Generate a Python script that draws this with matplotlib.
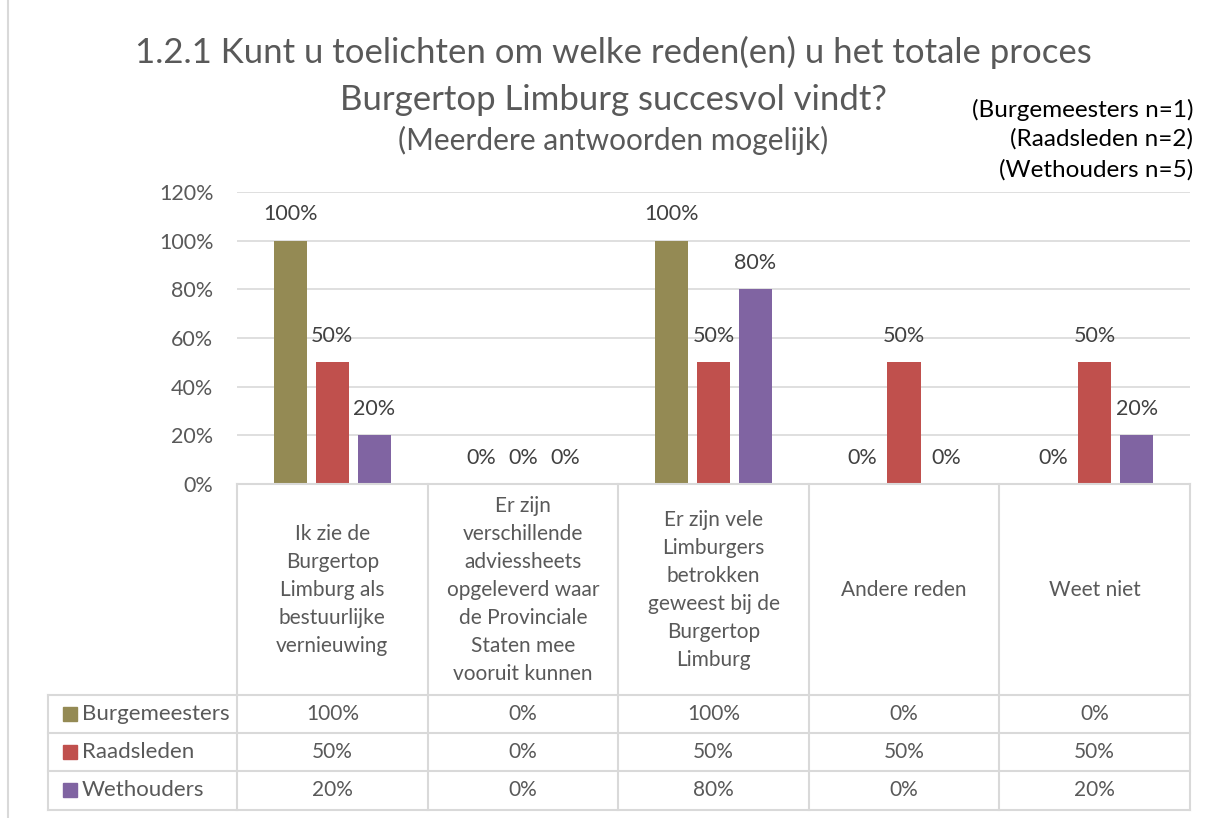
import numpy as np
import matplotlib.pyplot as plt
from matplotlib.transforms import blended_transform_factory
from matplotlib.lines import Line2D
from matplotlib.patches import Rectangle

categories = ["Ik zie de\nBurgertop\nLimburg als\nbestuurlijke\nvernieuwing",
              "Er zijn\nverschillende\nadviessheets\nopgeleverd waar\nde Provinciale\nStaten mee\nvooruit kunnen",
              "Er zijn vele\nLimburgers\nbetrokken\ngeweest bij de\nBurgertop\nLimburg",
              "Andere reden",
              "Weet niet"]
series = ["Burgemeesters", "Raadsleden", "Wethouders"]
burgemeesters = [100, 0, 100, 0, 0]
raadsleden = [50, 0, 50, 50, 50]
wethouders = [20, 0, 80, 0, 20]
colors = ["#948A54", "#C0504D", "#8064A2"]
yticks = [0, 20, 40, 60, 80, 100, 120]

plt.rcParams['font.family'] = ['Lato', 'DejaVu Sans']
grey = "#595959"
linec = "#D9D9D9"
fs = 15

fig = plt.figure(figsize=(12.14, 8.18), dpi=100)
W, H = 1214, 818
def fx(px): return px / W
def fy(py): return 1 - py / H

ax = fig.add_axes([fx(237), fy(484), fx(1190) - fx(237), fy(192) - fy(484)])
x = np.arange(len(categories))
width = 0.175
step = 0.22
data = [burgemeesters, raadsleden, wethouders]
for i, vals in enumerate(data):
    pos = x + (i - 1) * step
    ax.bar(pos, vals, width, color=colors[i], zorder=3)
    for p, v in zip(pos, vals):
        ax.annotate(f"{v}%", (p, v), xytext=(0, 19), textcoords="offset points",
                    ha="center", va="center", fontsize=fs + 0.5, color="#404040")

ax.set_xlim(-0.5, len(categories) - 0.5)
ax.set_ylim(0, 120)
ax.set_yticks(yticks)
ax.set_yticklabels([f"{t}%" for t in yticks], fontsize=fs + 0.5, color=grey)
ax.tick_params(axis="y", length=0, pad=17)
ax.set_xticks([])
ax.grid(axis="y", color=linec, linewidth=1.2, zorder=0)
for s in ["top", "right", "left", "bottom"]:
    ax.spines[s].set_visible(False)

# data table below the axes
tr = blended_transform_factory(ax.transData, fig.transFigure)
bounds = np.arange(len(categories) + 1) - 0.5
kw = dict(color=linec, linewidth=1.5, clip_on=False)
for b in bounds:
    fig.add_artist(Line2D([b, b], [fy(484), fy(810)], transform=tr, **kw))
fig.add_artist(Line2D([fx(48), fx(48)], [fy(695), fy(810)], transform=fig.transFigure, **kw))
fig.add_artist(Line2D([fx(237), fx(1190)], [fy(484), fy(484)], transform=fig.transFigure, **kw))
for yy in [695, 733, 771, 810]:
    fig.add_artist(Line2D([fx(48), fx(1190)], [fy(yy), fy(yy)], transform=fig.transFigure, **kw))

for xi, cat in zip(x, categories):
    fig.text(xi, fy(589.5), cat, transform=tr, ha="center", va="center",
             fontsize=fs, color=grey, linespacing=1.5)

row_y = [714, 752, 790]
for r, (name, vals) in enumerate(zip(series, data)):
    fig.add_artist(Rectangle((fx(63), fy(row_y[r] + 7)), fx(14), fy(0) - fy(14),
                             transform=fig.transFigure, color=colors[r]))
    fig.text(fx(82), fy(row_y[r]), name, ha="left", va="center", fontsize=fs + 1, color=grey)
    for xi, v in zip(x, vals):
        fig.text(xi, fy(row_y[r]), f"{v}%", transform=tr, ha="center", va="center",
                 fontsize=fs, color=grey)

# outer border
fig.add_artist(Line2D([fx(8), fx(8)], [0, 1], transform=fig.transFigure, color=linec, linewidth=1.5))

fig.text(fx(613), fy(52), "1.2.1 Kunt u toelichten om welke reden(en) u het totale proces",
         ha="center", va="center", fontsize=25, color=grey)
fig.text(fx(613), fy(100), "Burgertop Limburg succesvol vindt?",
         ha="center", va="center", fontsize=25, color=grey)
fig.text(fx(613), fy(140), "(Meerdere antwoorden mogelijk)",
         ha="center", va="center", fontsize=21.5, color=grey)
for yy, t in zip([110, 139, 170], ["(Burgemeesters n=1)", "(Raadsleden n=2)", "(Wethouders n=5)"]):
    fig.text(fx(1193), fy(yy), t, ha="right", va="center", fontsize=17.5, color="black")

fig.savefig("out.png", dpi=100)
